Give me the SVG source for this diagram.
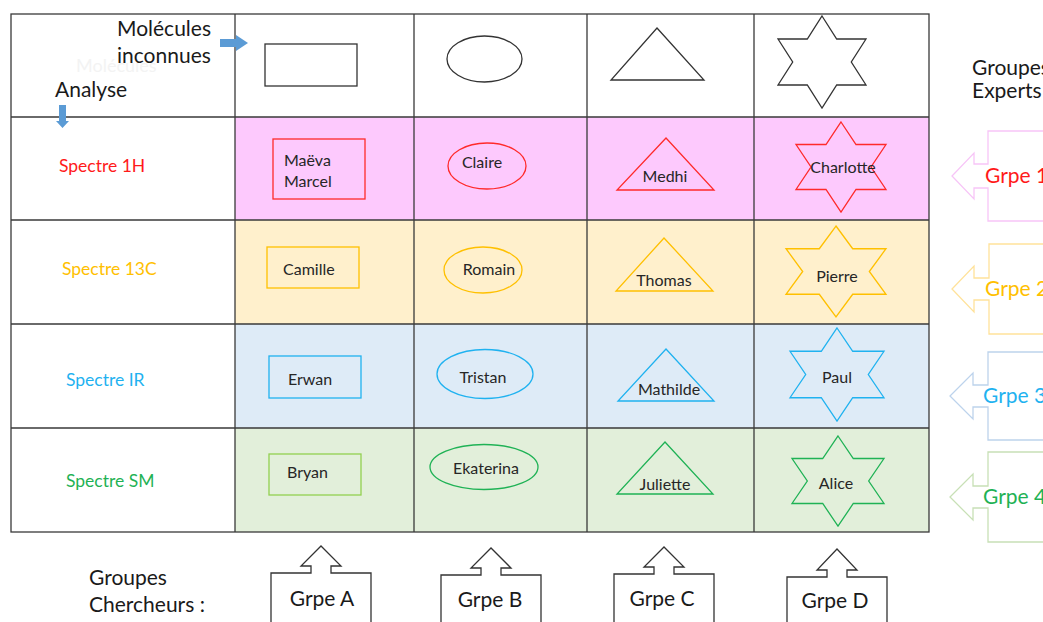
<svg xmlns="http://www.w3.org/2000/svg" width="1043" height="622" viewBox="0 0 1043 622">
<style>
text{font-family:Lato,"Open Sans","Liberation Sans",sans-serif;}
.hdr{font-size:21px;fill:#1a1a1a;}
.lbl{font-size:17.5px;}
.nm{font-size:16px;fill:#262626;}
.grid{stroke:#3a3a3a;stroke-width:1.3;fill:none;}
.hs{fill:none;stroke:#333;stroke-width:1.3;}
.red{fill:none;stroke:#ff2a2a;stroke-width:1.3;}
.yel{fill:none;stroke:#ffc000;stroke-width:1.3;}
.blu{fill:none;stroke:#1fb2f0;stroke-width:1.3;}
.grn{fill:none;stroke:#1fb255;stroke-width:1.3;}
.lgr{fill:none;stroke:#92d050;stroke-width:1.3;}
.barrow{fill:#fff;stroke:#333;stroke-width:1.3;}
.grp{font-size:21px;fill:#1a1a1a;}
</style>
<rect width="1043" height="622" fill="#fff"/>
<g id="table">
<rect x="235" y="117" width="694" height="103" fill="#fdc9fd"/>
<rect x="235" y="220" width="694" height="104" fill="#fff0cc"/>
<rect x="235" y="324" width="694" height="104" fill="#deebf7"/>
<rect x="235" y="428" width="694" height="104" fill="#e2efda"/>
<rect class="grid" x="11" y="14" width="918" height="518"/>
<path class="grid" d="M11 117H929M11 220H929M11 324H929M11 428H929M235 14V532M414 14V532M587 14V532M754 14V532"/>
</g>
<g id="header-label">
<text x="76" y="72" style="font-size:18px;fill:#f3f3f3">Molécules</text>
<text class="hdr" x="117" y="36">Molécules</text>
<text class="hdr" x="117" y="63">inconnues</text>
<text class="hdr" x="55" y="97">Analyse</text>
</g>
<g id="connectors">
<path d="M220 39H236V35L248 43L236 51V47H220Z" fill="#5b9bd5"/>
<path d="M59 105H66V121H69L62.5 128L56 121H59Z" fill="#5b9bd5"/>
</g>
<g id="mol-rect"><rect class="hs" x="265" y="44" width="92" height="42"/></g>
<g id="mol-ellipse"><ellipse class="hs" cx="484.5" cy="59" rx="37.5" ry="23"/></g>
<g id="mol-triangle"><polygon class="hs" points="657,28 704,80 611,80"/></g>
<g id="mol-star"><polygon class="hs" points="822,16 836.7,39 866,39 851.3,62 866,85 836.7,85 822,108 807.3,85 778,85 792.7,62 778,39 807.3,39"/></g>
<g id="spectre-1h"><text class="lbl" x="59" y="172" fill="#ff1a1a">Spectre 1H</text></g>
<g id="spectre-13c"><text class="lbl" x="62" y="275" fill="#ffc000">Spectre 13C</text></g>
<g id="spectre-ir"><text class="lbl" x="66" y="386" fill="#1fb2f0">Spectre IR</text></g>
<g id="spectre-sm"><text class="lbl" x="66" y="487" fill="#1fb255">Spectre SM</text></g>
<g id="maeva-marcel"><rect class="red" x="273" y="139" width="92" height="60"/><text class="nm" x="284" y="166">Maëva</text><text class="nm" x="284" y="187">Marcel</text></g>
<g id="claire"><ellipse class="red" cx="487" cy="166" rx="39" ry="23"/><text class="nm" x="482" y="168" text-anchor="middle">Claire</text></g>
<g id="medhi"><polygon class="red" points="666,138 714,190 617,190"/><text class="nm" x="665" y="182" text-anchor="middle">Medhi</text></g>
<g id="charlotte"><polygon class="red" points="841,122 856,144.5 886,144.5 871,167 886,189.5 856,189.5 841,212 826,189.5 796,189.5 811,167 796,144.5 826,144.5"/><text class="nm" x="843" y="173" text-anchor="middle">Charlotte</text></g>
<g id="camille"><rect class="yel" x="267" y="247" width="92" height="41"/><text class="nm" x="283" y="275">Camille</text></g>
<g id="romain"><ellipse class="yel" cx="483" cy="270" rx="39" ry="23"/><text class="nm" x="489" y="275" text-anchor="middle">Romain</text></g>
<g id="thomas"><polygon class="yel" points="664,238 713,291 616,291"/><text class="nm" x="664" y="286" text-anchor="middle">Thomas</text></g>
<g id="pierre"><polygon class="yel" points="836,226 852.7,248.75 886,248.75 869.3,271.5 886,294.25 852.7,294.25 836,317 819.3,294.25 786,294.25 802.7,271.5 786,248.75 819.3,248.75"/><text class="nm" x="837" y="282" text-anchor="middle">Pierre</text></g>
<g id="erwan"><rect class="blu" x="269" y="356" width="92" height="42"/><text class="nm" x="288" y="385">Erwan</text></g>
<g id="tristan"><ellipse class="blu" cx="485" cy="374" rx="48" ry="24.5"/><text class="nm" x="483" y="383" text-anchor="middle">Tristan</text></g>
<g id="mathilde"><polygon class="blu" points="666,349 714,401 618,401"/><text class="nm" x="669" y="395" text-anchor="middle">Mathilde</text></g>
<g id="paul"><polygon class="blu" points="837,328 852.7,351.25 884,351.25 868.3,374.5 884,397.75 852.7,397.75 837,421 821.3,397.75 790,397.75 805.7,374.5 790,351.25 821.3,351.25"/><text class="nm" x="837" y="383" text-anchor="middle">Paul</text></g>
<g id="bryan"><rect class="lgr" x="269" y="454" width="92" height="41"/><text class="nm" x="287" y="478">Bryan</text></g>
<g id="ekaterina"><ellipse class="grn" cx="484" cy="467" rx="54" ry="22.5"/><text class="nm" x="486" y="474" text-anchor="middle">Ekaterina</text></g>
<g id="juliette"><polygon class="grn" points="665,442 713,494 617,494"/><text class="nm" x="665" y="490" text-anchor="middle">Juliette</text></g>
<g id="alice"><polygon class="grn" points="838,436 853.3,458.5 884,458.5 868.7,481 884,503.5 853.3,503.5 838,526 822.7,503.5 792,503.5 807.3,481 792,458.5 822.7,458.5"/><text class="nm" x="836" y="489" text-anchor="middle">Alice</text></g>
<g id="groupes-experts"><text class="hdr" x="972" y="75">Groupes</text><text class="hdr" x="972" y="98">Experts</text></g>
<g id="grpe-1"><path d="M1050 131H988V164H974V153L952 176L974 199V188H988V221H1050" fill="none" stroke="#f7c5f7" stroke-width="1.3"/><text class="grp" x="985" y="183" style="fill:#ff1a1a">Grpe 1</text></g>
<g id="grpe-2"><path d="M1050 244H989V278H974V266L952 289L974 312V300H989V334H1050" fill="none" stroke="#ffe29a" stroke-width="1.3"/><text class="grp" x="985" y="296" style="fill:#ffc000">Grpe 2</text></g>
<g id="grpe-3"><path d="M1050 352H988V385H973V373L950 396L973 419V407H988V440H1050" fill="none" stroke="#bdd3ec" stroke-width="1.3"/><text class="grp" x="983" y="403" style="fill:#1fb2f0">Grpe 3</text></g>
<g id="grpe-4"><path d="M1050 452H988V486H973V474L950 497L973 520V508H988V542H1050" fill="none" stroke="#c8e0b6" stroke-width="1.3"/><text class="grp" x="983" y="504" style="fill:#1fb255">Grpe 4</text></g>
<g id="groupes-chercheurs"><text class="hdr" x="89" y="585">Groupes</text><text class="hdr" x="89" y="612">Chercheurs :</text></g>
<g id="grpe-a"><path class="barrow" d="M271 630V573H311V566H301L321 546L341 566H331V573H371V630"/><text class="grp" x="322" y="606" text-anchor="middle">Grpe A</text></g>
<g id="grpe-b"><path class="barrow" d="M441 630V575H481V568H471L491 548L511 568H501V575H541V630"/><text class="grp" x="490" y="607" text-anchor="middle">Grpe B</text></g>
<g id="grpe-c"><path class="barrow" d="M614 630V574H654V567H644L664 547L684 567H674V574H714V630"/><text class="grp" x="662" y="606" text-anchor="middle">Grpe C</text></g>
<g id="grpe-d"><path class="barrow" d="M787 630V577H827V570H817L837 549L857 570H847V577H887V630"/><text class="grp" x="835" y="608" text-anchor="middle">Grpe D</text></g>
</svg>
